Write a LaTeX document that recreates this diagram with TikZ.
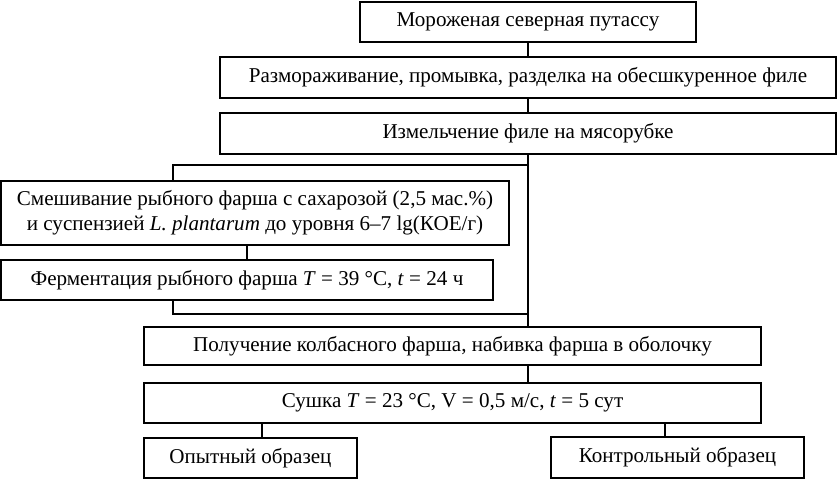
\documentclass[tikz,border=0pt]{standalone}
\usepackage{fontspec}
\setmainfont{Liberation Serif}
\usepackage{tikz}
\usetikzlibrary{positioning,calc}
\tikzset{
  box/.style={draw,line width=1.1pt,align=center,font=\fontsize{12}{14}\selectfont,inner sep=2pt},
  ln/.style={line width=1.1pt}
}
\begin{document}
\begin{tikzpicture}
\useasboundingbox (0,0) rectangle (16.76,-9.60);
\node[box,minimum width=6.72cm,minimum height=0.80cm,line width=1.4pt] (raw) at (10.56,-0.44) {Мороженая северная путассу};
\node[box,minimum width=12.32cm,minimum height=0.82cm] (thaw) at (10.56,-1.55) {Размораживание, промывка, разделка на обесшкуренное филе};
\node[box,minimum width=12.32cm,minimum height=0.82cm] (mince) at (10.56,-2.67) {Измельчение филе на мясорубке};
\node[box,minimum width=10.16cm,minimum height=1.28cm,line width=1.3pt] (mix) at (5.10,-4.26) {Смешивание рыбного фарша с сахарозой (2,5 мас.\%)\\и суспензией \textit{L. plantarum} до уровня 6–7 lg(КОЕ/г)};
\node[box,minimum width=9.84cm,minimum height=0.80cm,line width=1.3pt] (ferm) at (4.94,-5.60) {Ферментация рыбного фарша \textit{T} = 39 °C, \textit{t} = 24 ч};
\node[box,minimum width=12.34cm,minimum height=0.76cm] (stuff) at (9.05,-6.92) {Получение колбасного фарша, набивка фарша в оболочку};
\node[box,minimum width=12.34cm,minimum height=0.80cm] (dry) at (9.05,-8.06) {Сушка \textit{T} = 23 °C, V = 0,5 м/с, \textit{t} = 5 сут};
\node[box,minimum width=4.26cm,minimum height=0.80cm] (test) at (5.01,-9.16) {Опытный образец};
\node[box,minimum width=5.06cm,minimum height=0.82cm] (ctrl) at (13.55,-9.15) {Контрольный образец};
\coordinate (fork) at (3.46,-3.30);
\coordinate (join) at (3.46,-6.28);
\draw[ln] (raw.south) -- (thaw.north);
\draw[ln] (thaw.south) -- (mince.north);
\draw[ln] (mince.south) -- (mince.south |- stuff.north);
\draw[ln,line width=1.4pt] (fork -| mince.south) -- (fork) -- (fork |- mix.north);
\draw[ln] (ferm.north |- mix.south) -- (ferm.north);
\draw[ln] (join |- ferm.south) -- (join) -- (join -| mince.south);
\draw[ln] (stuff.south -| mince.south) -- (dry.north -| mince.south);
\draw[ln] ([xshift=0.23cm]test.north |- dry.south) -- ([xshift=0.23cm]test.north);
\draw[ln] ([xshift=-0.25cm]ctrl.north |- dry.south) -- ([xshift=-0.25cm]ctrl.north);
\end{tikzpicture}
\end{document}
